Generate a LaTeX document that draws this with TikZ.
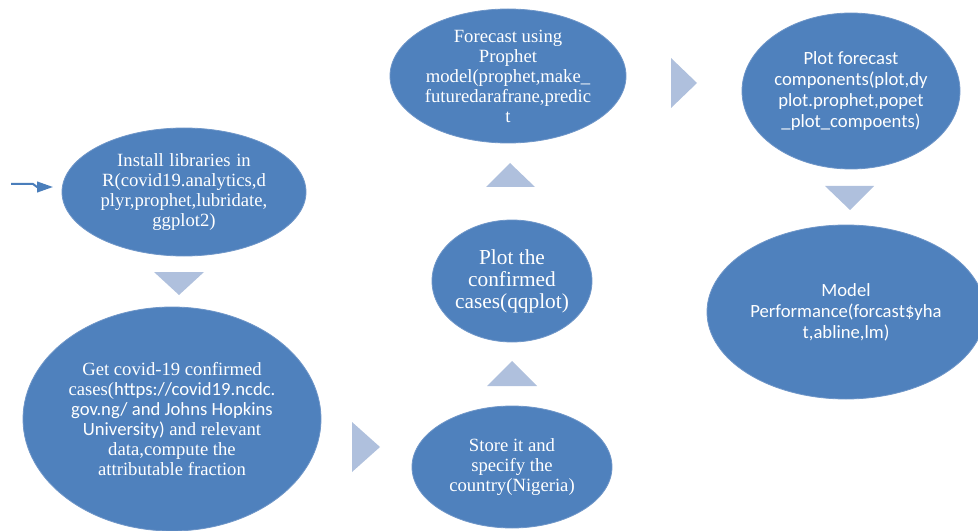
\documentclass[tikz,border=0pt]{standalone}
\usepackage{fontspec}
\setmainfont{Liberation Serif}
\newfontfamily\calfont{Carlito}
\usetikzlibrary{shapes.geometric,arrows.meta}
\definecolor{ellfill}{HTML}{4F81BD}
\definecolor{ellline}{HTML}{6F96C8}
\definecolor{trifill}{HTML}{AFC0DD}
\definecolor{arrcol}{HTML}{4A7EBB}
\begin{document}
\begin{tikzpicture}[x=0.75pt,y=-0.75pt,
  ell/.style={ellipse,fill=ellfill,draw=ellline,line width=0.6pt,inner sep=0pt},
  txt/.style={text=white,align=center,font=\fontsize{14pt}{15pt}\selectfont,inner sep=0pt},
  bigtxt/.style={text=white,align=center,font=\fontsize{16pt}{16.5pt}\selectfont,inner sep=0pt},
  caltxt/.style={text=white,align=center,font=\calfont\fontsize{14pt}{15.75pt}\selectfont,inner sep=0pt},
  tri/.style={fill=trifill,draw=none},
  arr/.style={draw=arrcol,line width=1.5pt,-{Triangle[length=12pt,width=8pt]}}]
\useasboundingbox (0,0) rectangle (978,531);
\clip (0,0) rectangle (978,531);
% ellipses
\node[ell,minimum width=183pt,minimum height=96pt,
  label={[txt]center:{Install\hspace{0.3em}libraries\hspace{0.3em}in\\R(covid19.analytics,d\\plyr,prophet,lubridate,\\ggplot2)}}] (inst) at (184,192) {};
\node[ell,minimum width=223.5pt,minimum height=168pt,
  label={[txt]center:{Get covid-19 confirmed\\cases({\calfont https://covid19.ncdc.}\\{\calfont gov.ng/ and Johns Hopkins}\\{\calfont University)} and relevant\\data,compute the\\attributable fraction}}] (get) at (172,419) {};
\node[ell,minimum width=150pt,minimum height=91.5pt,
  label={[txt]center:{Store it and\\specify the\\country(Nigeria)}}] (store) at (512,467) {};
\node[ell,minimum width=120pt,minimum height=91.5pt,
  label={[bigtxt]center:{Plot the\\confirmed\\cases(qqplot)}}] (plotc) at (512,281) {};
\node[ell,minimum width=177pt,minimum height=100.5pt,
  label={[txt]center:{Forecast using\\Prophet\\model(prophet,make\_\\futuredarafrane,predic\\t}}] (fore) at (508,76) {};
\node[ell,minimum width=163.5pt,minimum height=117pt,
  label={[caltxt]center:{Plot forecast\\components(plot,dy\\plot.prophet,popet\\\_plot\_compoents)}}] (plotf) at (851,91) {};
\node[ell,minimum width=208.5pt,minimum height=130.5pt,
  label={[caltxt]center:{Model\\Performance(forcast\$yha\\t,abline,lm)}}] (model) at (846,312) {};
% chevrons
\fill[tri] (154,272) -- (204,272) -- (179,295) -- cycle;
\fill[tri] (352,422) -- (380,447) -- (352,472) -- cycle;
\fill[tri] (487,386) -- (537,386) -- (512,361) -- cycle;
\fill[tri] (486,187) -- (535,187) -- (510,163) -- cycle;
\fill[tri] (671,58) -- (697,83) -- (671,108) -- cycle;
\fill[tri] (825,186) -- (874,186) -- (850,210) -- cycle;
% entry arrow
\coordinate (s) at (11,184);
\coordinate (e) at (53,187);
\draw[arr] (s) -- (33,184) -- (37,187) -- (e);
\end{tikzpicture}
\end{document}
